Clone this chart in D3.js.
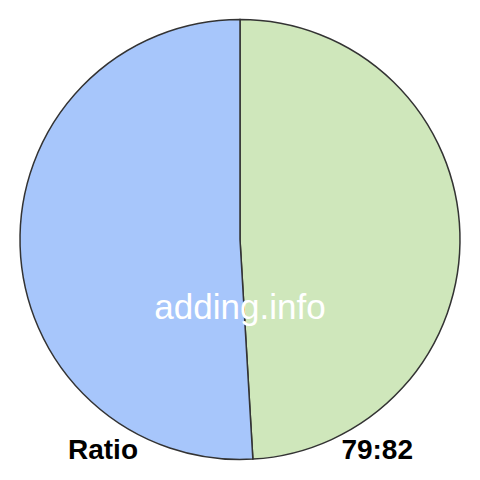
<!DOCTYPE html>
<html>
    <head>
        <meta charset="utf-8">
        <title></title>
        <script src="https://d3js.org/d3.v7.min.js"></script>
        <style>
            body { margin: 0; background: #fff; }
        </style>
    </head>
    <body>
       <div id="svgcontainer"></div>
       <script>
            var width = 480;
            var height = 480;

            var labels = ["A", "B"];
            var values = [79, 82];
            var colors = ["#cfe7bb", "#a7c6fb"];

            var svg = d3.select("#svgcontainer")
                .append("svg")
                .attr("width", width)
                .attr("height", height);

            var pie = d3.pie()
                .sort(null)
                .value(function(d) { return d; });

            var arc = d3.arc()
                .innerRadius(0)
                .outerRadius(220);

            var g = svg.append("g")
                .attr("transform", "translate(240,239.5)");

            g.selectAll("path")
                .data(pie(values))
                .enter().append("path")
                .attr("d", arc)
                .attr("fill", function(d, i) { return colors[i]; })
                .attr("stroke", "#333")
                .attr("stroke-width", 1.5);

            svg.append("text")
                .attr("x", 240)
                .attr("y", 319)
                .attr("text-anchor", "middle")
                .attr("font-family", "Liberation Sans, Arial, sans-serif")
                .attr("font-size", 35)
                .attr("fill", "#fff")
                .text("adding.info");

            svg.append("text")
                .attr("x", 68)
                .attr("y", 459)
                .attr("font-family", "Liberation Sans, Arial, sans-serif")
                .attr("font-weight", "bold")
                .attr("font-size", 28)
                .attr("fill", "#000")
                .text("Ratio");

            svg.append("text")
                .attr("x", 413)
                .attr("y", 459)
                .attr("text-anchor", "end")
                .attr("font-family", "Liberation Sans, Arial, sans-serif")
                .attr("font-weight", "bold")
                .attr("font-size", 28)
                .attr("fill", "#000")
                .text(values.join(":"));
       </script>
    </body>
</html>
